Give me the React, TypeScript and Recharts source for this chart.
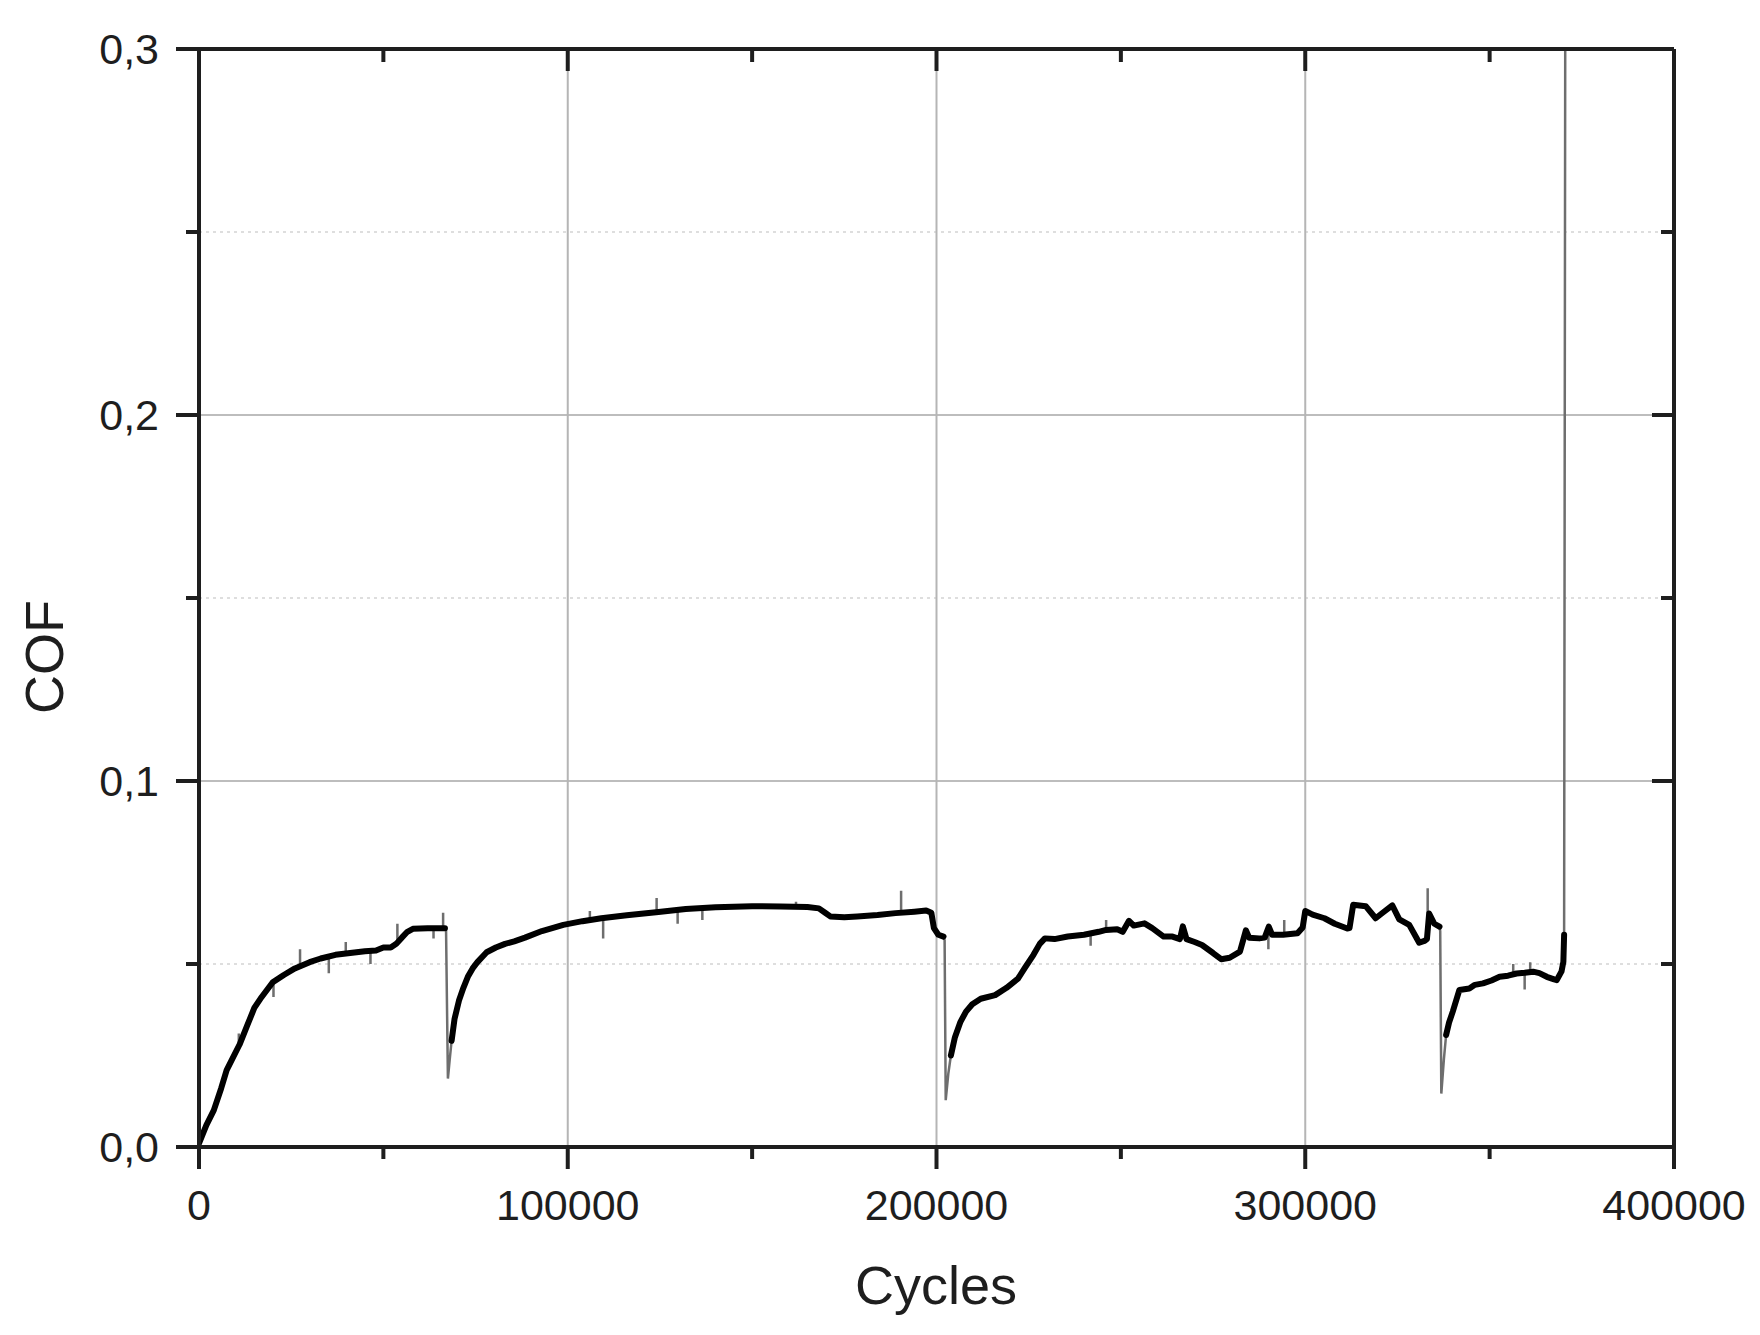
import React from 'react';
import { LineChart, Line, XAxis, YAxis, ReferenceLine } from 'recharts';

// Smoothed (thick) COF trace; null = break between wear segments
const cycles = [
  0, 2000, 4000, 6000, 7500, 9000, 11000, 13000, 15000, 17000, 20000, 23000, 26000, 30000, 33000,
  37000, 41000, 45000, 48000, 50000, 52000, 53500, 55000, 56500, 58000, 62000, 66700,
  67800,
  68500, 69300, 70500, 71700, 72900, 74200, 75500, 78000, 80500, 83000, 85500, 88400, 93000, 98800,
  104000, 109100, 116000, 124600, 132000, 140100, 150000, 157700, 165000, 168100, 169800, 171200,
  175000, 178500, 184000, 188900, 194000, 197200, 198600, 199300, 200500, 201900,
  202800,
  203900, 205000, 206500, 208000, 209700, 212000, 215900, 219000, 222100, 224000, 226300, 228000,
  229400, 232000, 235600, 240000, 244000, 246000, 249000, 250500, 252200, 253500, 256400, 258500,
  261600, 264000, 266000, 266800, 267800, 270000, 272000, 275000, 277200, 279500, 282300, 283900,
  284800, 287500, 289000, 290100, 291000, 294000, 297900, 299300, 300000, 302000, 305200, 308000,
  311400, 312000, 313000, 316400, 319100, 321000, 323600, 325500, 328200, 330900, 332300, 333000,
  333600, 335000, 336400,
  337300,
  338200, 339000, 340000, 341800, 344500, 346000, 348200, 350500, 352700, 355000, 357300, 359500,
  361800, 363500, 365500, 367500, 368200, 369500, 370000, 370200,
];
const cof = [
  0.001, 0.006, 0.010, 0.016, 0.021, 0.024, 0.028, 0.033, 0.038, 0.041, 0.045, 0.047, 0.0488, 0.0505, 0.0515,
  0.0525, 0.053, 0.0535, 0.0537, 0.0545, 0.0545, 0.0555, 0.0572, 0.0588, 0.0596, 0.0598, 0.0598,
  null,
  0.029, 0.035, 0.040, 0.0435, 0.0465, 0.0488, 0.0505, 0.0532, 0.0545, 0.0555, 0.0562, 0.0572, 0.059, 0.0607,
  0.0617, 0.0625, 0.0633, 0.0642, 0.065, 0.0655, 0.0658, 0.0657, 0.0656, 0.0652, 0.064, 0.063,
  0.0628, 0.063, 0.0634, 0.0639, 0.0643, 0.0646, 0.064, 0.0598, 0.058, 0.0575,
  null,
  0.025, 0.030, 0.0342, 0.037, 0.039, 0.0405, 0.0415, 0.0435, 0.046, 0.049, 0.0525, 0.0555,
  0.057, 0.0568, 0.0575, 0.058, 0.0588, 0.0593, 0.0595, 0.0588, 0.0618, 0.0605, 0.0611, 0.0598,
  0.0575, 0.0575, 0.0568, 0.0603, 0.0568, 0.056, 0.0552, 0.053, 0.0513, 0.0517, 0.0534, 0.0592,
  0.0572, 0.057, 0.0572, 0.0602, 0.058, 0.058, 0.0584, 0.060, 0.0645, 0.0635, 0.0625, 0.061,
  0.0597, 0.0598, 0.0662, 0.0658, 0.0625, 0.064, 0.066, 0.0622, 0.0607, 0.0558, 0.0563, 0.0568,
  0.0638, 0.061, 0.0602,
  null,
  0.0306, 0.034, 0.037, 0.0429, 0.0433, 0.0443, 0.0447, 0.0455, 0.0465, 0.0468, 0.0474, 0.0476,
  0.0479, 0.0475, 0.0465, 0.0458, 0.0456, 0.048, 0.0506, 0.058,
];

// Raw (thin) trace: run-in drops, final failure spike and noise excursions
const rawCycles = [
  66700, 67000, 67500, 68000, 68500, 68600,
  201900, 202200, 202500, 203200, 203900, 204000,
  336400, 336600, 336900, 337600, 338200, 338300,
  370000, 370200, 370500, 370600,
  10800, 10800, 10900,
  20200, 20200, 20300,
  27400, 27400, 27500,
  35200, 35200, 35300,
  39800, 39800, 39900,
  46500, 46500, 46600,
  53800, 53800, 53900,
  63600, 63600, 63700,
  66200, 66200, 66300,
  106000, 106000, 106100,
  109600, 109600, 109700,
  124100, 124100, 124200,
  129800, 129800, 129900,
  136500, 136500, 136600,
  161900, 161900, 162000,
  190400, 190400, 190500,
  241800, 241800, 241900,
  246000, 246000, 246100,
  290000, 290000, 290100,
  294300, 294300, 294400,
  333200, 333200, 333300,
  356400, 356400, 356500,
  359500, 359500, 359600,
  361000, 361000,
];
const rawCof = [
  0.0598, 0.059, 0.0187, 0.024, 0.029, null,
  0.0575, 0.0565, 0.0128, 0.020, 0.025, null,
  0.0602, 0.059, 0.0146, 0.024, 0.0306, null,
  0.0506, 0.058, 0.3, null,
  0.028, 0.031, null,
  0.045, 0.041, null,
  0.049, 0.054, null,
  0.052, 0.0475, null,
  0.053, 0.056, null,
  0.0535, 0.050, null,
  0.056, 0.061, null,
  0.0598, 0.057, null,
  0.0598, 0.064, null,
  0.062, 0.0645, null,
  0.0625, 0.057, null,
  0.0643, 0.068, null,
  0.0647, 0.061, null,
  0.0655, 0.062, null,
  0.0655, 0.067, null,
  0.064, 0.070, null,
  0.0585, 0.055, null,
  0.0593, 0.062, null,
  0.058, 0.054, null,
  0.058, 0.062, null,
  0.064, 0.0707, null,
  0.047, 0.050, null,
  0.0476, 0.043, null,
  0.0478, 0.0505,
];

const xTicks = [0, 50000, 100000, 150000, 200000, 250000, 300000, 350000, 400000];
const yTicks = [0, 0.05, 0.1, 0.15, 0.2, 0.25, 0.3];
const xGridMajor = [100000, 200000, 300000];
const yGridMajor = [0.1, 0.2];
const yGridMinor = [0.05, 0.15, 0.25];
const xMax = 400000;
const yMax = 0.3;

const mainData = cycles.map((c, i) => ({ cycles: c, cof: cof[i] }));
const rawData = rawCycles.map((c, i) => ({ cycles: c, cof: rawCof[i] }));

const FONT = '"Liberation Sans", Arial, Helvetica, sans-serif';
const INK = '#1e1e1e';

const isMajorX = (v: number) => v % 100000 === 0;
const isMajorY = (v: number) => Math.abs(v * 10 - Math.round(v * 10)) < 1e-6;

const BottomTick = (props: any) => {
  const { x, y, payload } = props;
  const major = isMajorX(payload.value);
  return (
    <g>
      <line x1={x} y1={y} x2={x} y2={y + (major ? 22 : 12)} stroke={INK} strokeWidth={4} />
      {major && (
        <text x={x} y={y + 58} textAnchor="middle" dominantBaseline="central" fontFamily={FONT} fontSize={43} fill={INK}>
          {payload.value}
        </text>
      )}
    </g>
  );
};

const TopTick = (props: any) => {
  const { x, y, payload } = props;
  const major = isMajorX(payload.value);
  return <line x1={x} y1={y} x2={x} y2={y + (major ? 22 : 13)} stroke={INK} strokeWidth={4} />;
};

const LeftTick = (props: any) => {
  const { x, y, payload } = props;
  const major = isMajorY(payload.value);
  return (
    <g>
      <line x1={x} y1={y} x2={x - (major ? 23 : 13)} y2={y} stroke={INK} strokeWidth={4} />
      {major && (
        <text x={x - 40} y={y} textAnchor="end" dominantBaseline="central" fontFamily={FONT} fontSize={43} fill={INK}>
          {payload.value.toFixed(1).replace('.', ',')}
        </text>
      )}
    </g>
  );
};

const RightTick = (props: any) => {
  const { x, y, payload } = props;
  const major = isMajorY(payload.value);
  return <line x1={x} y1={y} x2={x - (major ? 22 : 13)} y2={y} stroke={INK} strokeWidth={4} />;
};

const CofTitle = () => (
  <text x={44} y={657} transform="rotate(-90 44 657)" textAnchor="middle" dominantBaseline="central" fontFamily={FONT} fontSize={54} fill={INK}>
    COF
  </text>
);

const CyclesTitle = () => (
  <text x={936} y={1285} textAnchor="middle" dominantBaseline="central" fontFamily={FONT} fontSize={54} fill={INK}>
    Cycles
  </text>
);

export default function App() {
  return (
    <div style={{ position: 'absolute', left: 0, top: 0, width: 1760, height: 1335, background: '#fff' }}>
      <LineChart width={1760} height={1335} margin={{ top: 48, right: 85, bottom: 0, left: 0 }}>
        <XAxis
          xAxisId="bottom"
          dataKey="cycles"
          type="number"
          domain={[0, xMax]}
          ticks={xTicks}
          allowDataOverflow
          height={188}
          tickSize={0}
          tickMargin={0}
          tickLine={false}
          axisLine={{ stroke: INK, strokeWidth: 4 }}
          tick={<BottomTick />}
          label={<CyclesTitle />}
        />
        <XAxis
          xAxisId="top"
          orientation="top"
          dataKey="cycles"
          type="number"
          domain={[0, xMax]}
          ticks={xTicks}
          allowDataOverflow
          height={1}
          tickSize={0}
          tickMargin={0}
          tickLine={false}
          axisLine={{ stroke: INK, strokeWidth: 4 }}
          tick={<TopTick />}
        />
        <YAxis
          yAxisId="left"
          type="number"
          domain={[0, yMax]}
          ticks={yTicks}
          allowDataOverflow
          width={199}
          tickSize={0}
          tickMargin={0}
          tickLine={false}
          axisLine={{ stroke: INK, strokeWidth: 4 }}
          tick={<LeftTick />}
          label={<CofTitle />}
        />
        <YAxis
          yAxisId="right"
          orientation="right"
          type="number"
          domain={[0, yMax]}
          ticks={yTicks}
          allowDataOverflow
          width={1}
          tickSize={0}
          tickMargin={0}
          tickLine={false}
          axisLine={{ stroke: INK, strokeWidth: 4 }}
          tick={<RightTick />}
        />
        {yGridMinor.map((v) => (
          <ReferenceLine key={'ym' + v} xAxisId="bottom" yAxisId="left" y={v} stroke="#dedede" strokeWidth={2} strokeDasharray="3 4" />
        ))}
        {yGridMajor.map((v) => (
          <ReferenceLine key={'yM' + v} xAxisId="bottom" yAxisId="left" y={v} stroke="#bdbdbd" strokeWidth={2} />
        ))}
        {xGridMajor.map((v) => (
          <ReferenceLine key={'xM' + v} xAxisId="bottom" yAxisId="left" x={v} stroke="#b5b5b5" strokeWidth={2} />
        ))}
        <ReferenceLine xAxisId="bottom" yAxisId="left" y={yMax} stroke={INK} strokeWidth={4} />
        <ReferenceLine xAxisId="bottom" yAxisId="left" x={xMax} stroke={INK} strokeWidth={4} />
        <Line
          xAxisId="bottom"
          yAxisId="left"
          data={rawData}
          dataKey="cof"
          type="linear"
          stroke="#6e6e6e"
          strokeWidth={2.5}
          dot={false}
          connectNulls={false}
          isAnimationActive={false}
        />
        <Line
          xAxisId="bottom"
          yAxisId="left"
          data={mainData}
          dataKey="cof"
          type="linear"
          stroke="#000"
          strokeWidth={6}
          strokeLinejoin="round"
          strokeLinecap="round"
          dot={false}
          connectNulls={false}
          isAnimationActive={false}
        />
      </LineChart>
    </div>
  );
}
